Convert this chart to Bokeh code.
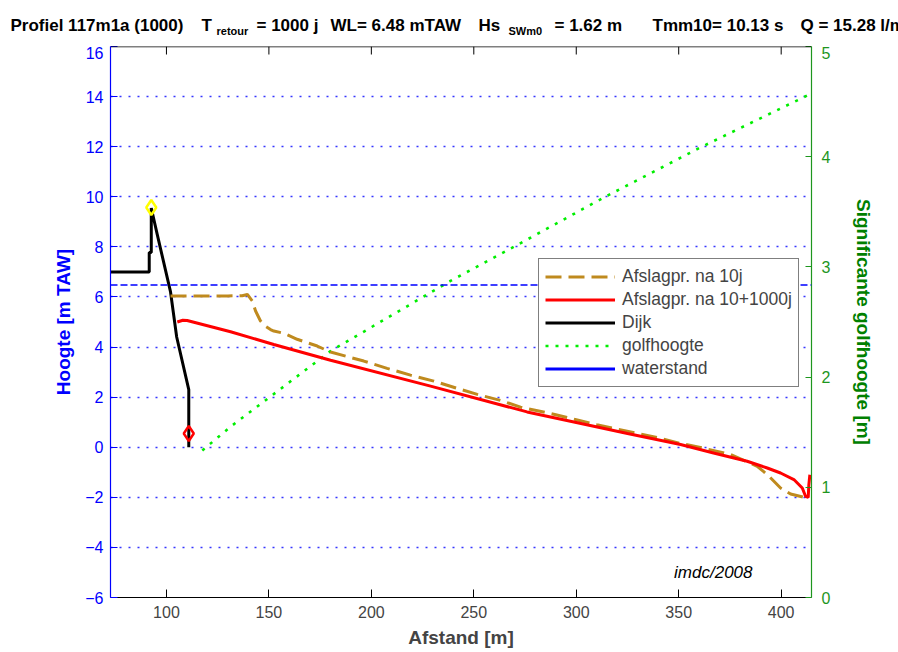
from bokeh.plotting import figure
from bokeh.layouts import column
from bokeh.models import (Range1d, LinearAxis, FixedTicker, Label, Legend, LegendItem, Span)
from bokeh.embed import file_html
from bokeh.resources import INLINE

# ---------------- data ----------------
x_ticks = [100, 150, 200, 250, 300, 350, 400]
y_ticks = [-6, -4, -2, 0, 2, 4, 6, 8, 10, 12, 14, 16]
y2_ticks = [0, 1, 2, 3, 4, 5]

dike_x = [60.0, 91.6, 91.6, 92.6, 92.6, 95.5, 102.0, 105.0, 110.9, 110.9]
dike_y = [7.0, 7.0, 7.77, 7.77, 9.55, 8.5, 6.2, 4.4, 2.3, 0.0]

prof10_x = [102.0, 110.0, 120.0, 130.0, 137.0, 139.5, 141.9, 143.5, 145.9, 148.0, 150.8,
            152.4, 157.3, 163.8, 173.6, 180.1, 196.3, 207.7, 219.1, 230.5, 241.9, 251.7,
            263.0, 272.8, 290.0, 300.0, 310.0, 320.0, 330.0, 340.0, 350.9, 360.0, 375.2,
            388.3, 393.2, 399.7, 404.6, 411.1, 412.7]
prof10_y = [6.04, 6.04, 6.04, 6.04, 6.05, 6.1, 5.84, 5.44, 5.04, 4.85, 4.7,
            4.64, 4.55, 4.31, 4.04, 3.8, 3.44, 3.15, 2.88, 2.64, 2.35, 2.11,
            1.87, 1.6, 1.3, 1.1, 0.9, 0.72, 0.55, 0.38, 0.15, 0.0, -0.29,
            -0.76, -1.09, -1.63, -1.87, -2.0, -1.96]

prof1000_x = [105.3, 108.0, 110.1, 120.0, 131.3, 152.4, 180.1, 228.9, 276.0, 300.0, 325.0,
              350.9, 367.0, 383.4, 393.2, 399.7, 406.2, 410.3, 411.9, 413.2, 413.5, 414.0]
prof1000_y = [5.0, 5.07, 5.06, 4.85, 4.61, 4.1, 3.47, 2.44, 1.41, 0.99, 0.55,
              0.11, -0.23, -0.56, -0.83, -1.03, -1.29, -1.63, -1.96, -2.0, -1.5, -1.1]

golf_x = [117.5, 131.3, 180.1, 238.6, 270.4, 313.5, 360.6, 412.7, 413.5]
golf_y = [1.334, 1.55, 2.236, 2.873, 3.191, 3.63, 4.084, 4.555, 4.6]

waterstand = 6.48
top_x = [92.6]
top_y = [9.57]
toe_x = [110.9]
toe_y = [0.55]

title_texts = ["Profiel 117m1a (1000)", "T", "retour", "= 1000 j", "WL= 6.48 mTAW",
               "Hs", "SWm0", "= 1.62 m", "Tmm10= 10.13 s", "Q = 15.28 l/m/s"]
title_is_sub = [False, False, True, False, False, False, True, False, False, False]

# layout of title pieces (page px)
title_xpos = [10, 201, 216, 256, 330, 478, 508, 554, 652, 800]

X0, X1 = 72.7, 414.8
Y0, Y1 = -6, 16
FRAME_W, FRAME_H = 701, 551

# ---------------- title strip ----------------
tp = figure(width=898, height=46, x_range=Range1d(0, 898), y_range=Range1d(46, 0),
            x_axis_type=None, y_axis_type=None,
            output_backend="svg", toolbar_location=None, min_border=0)
try:
    tp.frame_align = False
except Exception:
    pass
tp.grid.visible = False
tp.outline_line_color = None
for txt, xpx, sub in zip(title_texts, title_xpos, title_is_sub):
    tp.add_layout(Label(x=xpx, y=30 if sub else 25, text=txt,
                        text_font="Liberation Sans", text_font_style="bold",
                        text_font_size="11px" if sub else "17px",
                        text_baseline="alphabetic", text_color="black"))

# ---------------- main figure ----------------
TICK_FONT = "Liberation Sans"
p = figure(frame_width=FRAME_W, frame_height=FRAME_H, output_backend="svg",
           toolbar_location=None,
           x_range=Range1d(X0, X1), y_range=Range1d(Y0, Y1),
           min_border_left=110, min_border_right=87, min_border_top=0, min_border_bottom=55)
try:
    p.frame_align = False
except Exception:
    pass
p.extra_y_ranges = {"y2": Range1d(0, 5)}
p.outline_line_color = None
p.background_fill_color = "white"
p.border_fill_color = "white"
p.xgrid.visible = False
p.ygrid.ticker = FixedTicker(ticks=y_ticks)
p.ygrid.grid_line_color = "#2020ff"
p.ygrid.grid_line_dash = "2 7"
p.ygrid.grid_line_width = 1.6
p.ygrid.grid_line_alpha = 0.9

# bottom axis
xa = p.xaxis[0]
xa.ticker = FixedTicker(ticks=x_ticks)
xa.axis_label = "Afstand [m]"
xa.axis_label_text_font = "Liberation Sans"
xa.axis_label_text_font_style = "bold"
xa.axis_label_text_font_size = "19px"
xa.axis_label_standoff = 6
xa.major_label_text_font = TICK_FONT
xa.major_label_text_font_size = "16px"
xa.major_label_standoff = 8
xa.major_tick_in = 8
xa.major_tick_out = 0
xa.minor_tick_line_color = None
xa.axis_line_color = "black"
xa.major_tick_line_color = "black"
xa.axis_line_width = 1.2

# top frame edge with inward ticks
p.add_layout(Span(location=Y1, dimension="width", line_color="black", line_width=1.5))
tick_len = 8 * (Y1 - Y0) / FRAME_H
p.segment(x0=x_ticks, y0=[Y1] * len(x_ticks), x1=x_ticks, y1=[Y1 - tick_len] * len(x_ticks),
          line_color="black", line_width=1)

# left axis
ya = p.yaxis[0]
ya.ticker = FixedTicker(ticks=y_ticks)
ya.axis_label = "Hoogte [m TAW]"
ya.axis_label_text_font = "Liberation Sans"
ya.axis_label_text_font_style = "bold"
ya.axis_label_text_font_size = "19px"
ya.axis_label_text_color = "#0000ff"
ya.axis_label_standoff = 8
ya.major_label_text_font = TICK_FONT
ya.major_label_text_font_size = "16px"
ya.major_label_text_color = "#0000ff"
ya.major_label_standoff = 7
ya.major_tick_in = 7
ya.major_tick_out = 0
ya.minor_tick_line_color = None
ya.axis_line_color = "#0000ff"
ya.major_tick_line_color = "#0000ff"
ya.axis_line_width = 1.2

# right axis
GREEN = "#1e961e"
ra = LinearAxis(y_range_name="y2", ticker=FixedTicker(ticks=y2_ticks),
                axis_label="Significante golfhoogte [m]")
ra.axis_label_text_font = "Liberation Sans"
ra.axis_label_text_font_style = "bold"
ra.axis_label_text_font_size = "19px"
ra.axis_label_text_color = "#008000"
ra.axis_label_standoff = 20
ra.major_label_text_font = TICK_FONT
ra.major_label_text_font_size = "16px"
ra.major_label_text_color = GREEN
ra.major_label_standoff = 10
ra.major_tick_in = 6
ra.major_tick_out = 0
ra.minor_tick_line_color = None
ra.axis_line_color = GREEN
ra.major_tick_line_color = GREEN
ra.axis_line_width = 1.2
p.add_layout(ra, "right")

# ---------------- glyphs ----------------
BROWN = "#bf8a1e"
p.add_layout(Span(location=waterstand, dimension="width", line_color="#0000ff",
                  line_dash="7 3", line_width=1.4))
r_golf = p.line(golf_x, golf_y, y_range_name="y2", line_color="#00ee00", line_width=2.6,
                line_dash="3 7")
r_dike = p.line(dike_x, dike_y, line_color="black", line_width=3)
r_10 = p.line(prof10_x, prof10_y, line_color=BROWN, line_width=3, line_dash="16 7")
r_1000 = p.line(prof1000_x, prof1000_y, line_color="#ff0000", line_width=3)
# legend-only solid line for waterstand (kept far below the visible range)
r_wl = p.line([100, 200], [waterstand - 100, waterstand - 100], line_color="#0000ff",
              line_width=3)
p.scatter(top_x, top_y, marker="diamond", size=15, fill_color=None, line_color="#ffff00",
          line_width=2.5)
p.scatter(toe_x, toe_y, marker="diamond", size=15, fill_color=None, line_color="#ff0000",
          line_width=2.5)

legend = Legend(items=[
    LegendItem(label="Afslagpr. na 10j", renderers=[r_10]),
    LegendItem(label="Afslagpr. na 10+1000j", renderers=[r_1000]),
    LegendItem(label="Dijk", renderers=[r_dike]),
    LegendItem(label="golfhoogte", renderers=[r_golf]),
    LegendItem(label="waterstand", renderers=[r_wl]),
], location=(428, 210))
legend.label_text_font = "Liberation Sans"
legend.label_text_font_size = "17.5px"
legend.glyph_width = 70
legend.glyph_height = 23
legend.label_height = 23
legend.spacing = 0
legend.padding = 6
legend.margin = 0
legend.label_standoff = 7
legend.border_line_color = "black"
legend.border_line_width = 1.2
legend.background_fill_alpha = 1.0
p.add_layout(legend, "center")

# watermark
p.add_layout(Label(x=642, y=16, x_units="screen", y_units="screen", text="imdc/2008",
                   text_font="Liberation Sans", text_font_style="italic",
                   text_font_size="17px", text_align="right", text_color="black"))

layout = column(tp, p, spacing=0)
open("out.html", "w").write(file_html(layout, INLINE))
